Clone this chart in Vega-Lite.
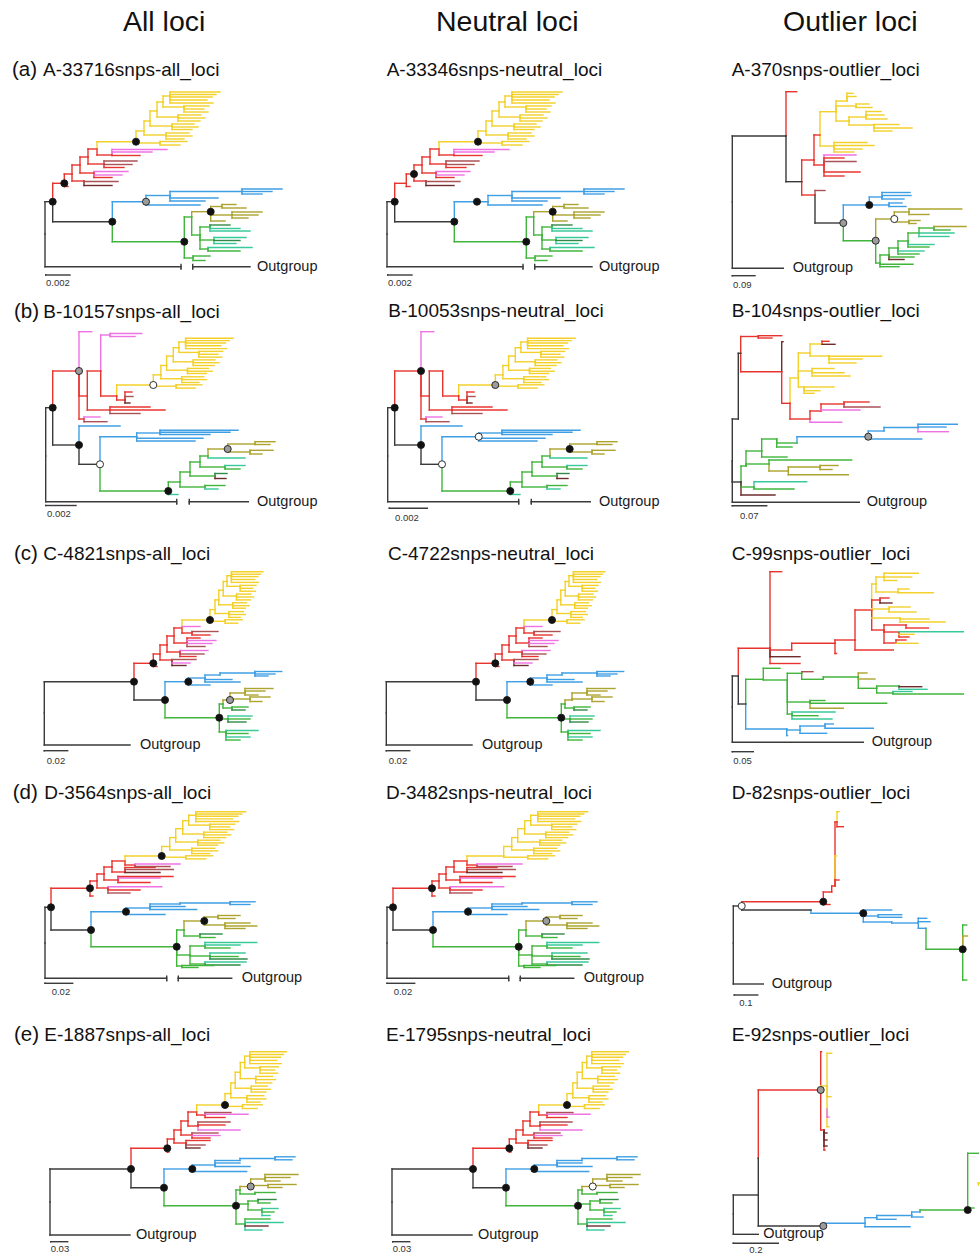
{
"$schema":"https://vega.github.io/schema/vega-lite/v6.json",
"background":"white",
"padding":{"left":0,"top":8,"right":0,"bottom":0},
"bounds":"flush",
"config":{"view":{"stroke":null},"font":"Liberation Sans"},
"data":{"values":[
{"r":"a","q":[1],"t":"All loci","s":"h","x":123,"y":-23},
{"r":"a","q":[2],"t":"Neutral loci","s":"h","x":94,"y":-23},
{"r":"a","q":[3],"t":"Outlier loci","s":"h","x":99,"y":-23},
{"r":"a","q":[1],"t":"(a)","s":"l","x":12,"y":25},
{"r":"a","q":[1],"t":"A-33716snps-all_loci","s":"t","x":43,"y":25},
{"r":"a","q":[2],"t":"A-33346snps-neutral_loci","s":"t","x":44.7,"y":25},
{"r":"a","q":[3],"t":"A-370snps-outlier_loci","s":"t","x":47.7,"y":25},
{"r":"a","q":[1,2],"t":"Outgroup","s":"o","x":257,"y":222},
{"r":"a","q":[1,2],"t":"0.002","s":"b","x":46,"y":237.5},
{"r":"a","q":[3],"t":"Outgroup","s":"o","x":108.7,"y":223.3},
{"r":"a","q":[3],"t":"0.09","s":"b","x":49,"y":239.5},
{"r":"a","q":[1,2],"c":"K","x":45,"y":189,"x2":52.7,"y2":156.7},
{"r":"a","q":[1,2],"c":"K","x":45,"y":189,"x2":181,"y2":221.7},
{"r":"a","q":[1,2],"c":"K","x":181,"y":219.5,"x2":181,"y2":223.9},
{"r":"a","q":[1,2],"c":"K","x":192.7,"y":219.5,"x2":192.7,"y2":223.9},
{"r":"a","q":[1,2],"c":"K","x":192.7,"y":221.7,"x2":250,"y2":221.7},
{"r":"a","q":[1,2],"c":"K","x":45.7,"y":230,"x2":70,"y2":230},
{"r":"a","q":[1,2],"c":"K","x":52.7,"y":156.7,"x2":112.3,"y2":176.7},
{"r":"a","q":[1,2],"c":"R","x":52.7,"y":156.7,"x2":64.3,"y2":138.3},
{"r":"a","q":[1,2],"c":"R","x":64.3,"y":138.3,"x2":68,"y2":141.5},
{"r":"a","q":[1,2],"c":"R","x":64.3,"y":138.3,"x2":72,"y2":129},
{"r":"a","q":[1,2],"c":"R","x":72,"y":129,"x2":84,"y2":136},
{"r":"a","q":[1,2],"c":"M","x":84,"y":136,"x2":118,"y2":136.5},
{"r":"a","q":[1,2],"c":"D","x":84,"y":136,"x2":112,"y2":140.5},
{"r":"a","q":[1,2],"c":"R","x":72,"y":129,"x2":80,"y2":120},
{"r":"a","q":[1,2],"c":"R","x":80,"y":120,"x2":94,"y2":128},
{"r":"a","q":[1,2],"c":"P","x":94,"y":128,"x2":128,"y2":126.5},
{"r":"a","q":[1,2],"c":"P","x":94,"y":128,"x2":122,"y2":130},
{"r":"a","q":[1,2],"c":"R","x":94,"y":128,"x2":112,"y2":132.5},
{"r":"a","q":[1,2],"c":"R","x":80,"y":120,"x2":88,"y2":112},
{"r":"a","q":[1,2],"c":"R","x":88,"y":112,"x2":104,"y2":119},
{"r":"a","q":[1,2],"c":"M","x":104,"y":119,"x2":137,"y2":116},
{"r":"a","q":[1,2],"c":"M","x":104,"y":119,"x2":132,"y2":119.5},
{"r":"a","q":[1,2],"c":"R","x":104,"y":119,"x2":124,"y2":122.5},
{"r":"a","q":[1,2],"c":"R","x":88,"y":112,"x2":97,"y2":104},
{"r":"a","q":[1,2],"c":"R","x":97,"y":104,"x2":112,"y2":110},
{"r":"a","q":[1,2],"c":"P","x":112,"y":110,"x2":152,"y2":107},
{"r":"a","q":[1,2],"c":"R","x":112,"y":110,"x2":140,"y2":110.5},
{"r":"a","q":[1,2],"c":"P","x":112,"y":110,"x2":167,"y2":104.5},
{"r":"a","q":[1,2],"c":"Y","x":97,"y":104,"x2":136,"y2":96.7},
{"r":"a","q":[1,2],"c":"Y","x":136,"y":96.7,"x2":144,"y2":86},
{"r":"a","q":[1,2],"c":"Y","x":144,"y":86,"x2":150,"y2":76},
{"r":"a","q":[1,2],"c":"Y","x":150,"y":76,"x2":157,"y2":66},
{"r":"a","q":[1,2],"c":"Y","x":157,"y":66,"x2":163,"y2":57},
{"r":"a","q":[1,2],"c":"Y","x":163,"y":57,"x2":170,"y2":51},
{"r":"a","q":[1,2],"c":"Y","x":136,"y":96.7,"x2":160,"y2":98},
{"r":"a","q":[1,2],"c":"Y","x":160,"y":98,"x2":180,"y2":100},
{"r":"a","q":[1,2],"c":"Y","x":160,"y":98,"x2":187,"y2":96.5},
{"r":"a","q":[1,2],"c":"Y","x":144,"y":86,"x2":166,"y2":90},
{"r":"a","q":[1,2],"c":"Y","x":166,"y":90,"x2":189,"y2":88},
{"r":"a","q":[1,2],"c":"Y","x":166,"y":90,"x2":192,"y2":91},
{"r":"a","q":[1,2],"c":"Y","x":166,"y":90,"x2":184,"y2":94},
{"r":"a","q":[1,2],"c":"Y","x":150,"y":76,"x2":172,"y2":81},
{"r":"a","q":[1,2],"c":"Y","x":172,"y":81,"x2":194,"y2":79},
{"r":"a","q":[1,2],"c":"Y","x":172,"y":81,"x2":198,"y2":82},
{"r":"a","q":[1,2],"c":"Y","x":172,"y":81,"x2":192,"y2":84.5},
{"r":"a","q":[1,2],"c":"Y","x":157,"y":66,"x2":178,"y2":72},
{"r":"a","q":[1,2],"c":"Y","x":178,"y":72,"x2":201,"y2":70},
{"r":"a","q":[1,2],"c":"Y","x":178,"y":72,"x2":205,"y2":73},
{"r":"a","q":[1,2],"c":"Y","x":178,"y":72,"x2":200,"y2":76},
{"r":"a","q":[1,2],"c":"Y","x":163,"y":57,"x2":184,"y2":62},
{"r":"a","q":[1,2],"c":"Y","x":184,"y":62,"x2":204,"y2":64},
{"r":"a","q":[1,2],"c":"Y","x":184,"y":62,"x2":209,"y2":61},
{"r":"a","q":[1,2],"c":"Y","x":184,"y":62,"x2":208,"y2":67},
{"r":"a","q":[1,2],"c":"Y","x":170,"y":51,"x2":220,"y2":47},
{"r":"a","q":[1,2],"c":"Y","x":170,"y":51,"x2":216,"y2":49.5},
{"r":"a","q":[1,2],"c":"Y","x":170,"y":51,"x2":212,"y2":52},
{"r":"a","q":[1,2],"c":"Y","x":170,"y":51,"x2":207,"y2":55},
{"r":"a","q":[1,2],"c":"Y","x":170,"y":51,"x2":213,"y2":58},
{"r":"a","q":[1,2],"c":"B","x":112.3,"y":176.7,"x2":146,"y2":156.7},
{"r":"a","q":[1,2],"c":"B","x":146,"y":156.7,"x2":200,"y2":160},
{"r":"a","q":[1,2],"c":"B","x":146,"y":156.7,"x2":170,"y2":150.5},
{"r":"a","q":[1,2],"c":"B","x":170,"y":150.5,"x2":218,"y2":153},
{"r":"a","q":[1,2],"c":"B","x":170,"y":150.5,"x2":205,"y2":156},
{"r":"a","q":[1,2],"c":"B","x":170,"y":150.5,"x2":242,"y2":146.5},
{"r":"a","q":[1,2],"c":"B","x":242,"y":146.5,"x2":282,"y2":144},
{"r":"a","q":[1,2],"c":"B","x":242,"y":146.5,"x2":272,"y2":146.5},
{"r":"a","q":[1,2],"c":"B","x":242,"y":146.5,"x2":262,"y2":149},
{"r":"a","q":[1,2],"c":"G","x":112.3,"y":176.7,"x2":184.3,"y2":196.7},
{"r":"a","q":[1,2],"c":"G","x":184.3,"y":196.7,"x2":191.7,"y2":172},
{"r":"a","q":[1,2],"c":"G","x":184.3,"y":196.7,"x2":193,"y2":213},
{"r":"a","q":[1,2],"c":"G","x":193,"y":213,"x2":210,"y2":211},
{"r":"a","q":[1,2],"c":"G","x":193,"y":213,"x2":205,"y2":215.5},
{"r":"a","q":[1,2],"c":"O","x":191.7,"y":172,"x2":210.7,"y2":166.7},
{"r":"a","q":[1,2],"c":"G","x":191.7,"y":172,"x2":200,"y2":190},
{"r":"a","q":[1,2],"c":"O","x":210.7,"y":166.7,"x2":222,"y2":161.5},
{"r":"a","q":[1,2],"c":"O","x":222,"y":161.5,"x2":236,"y2":159.5},
{"r":"a","q":[1,2],"c":"O","x":222,"y":161.5,"x2":246,"y2":163},
{"r":"a","q":[1,2],"c":"O","x":210.7,"y":166.7,"x2":232,"y2":170},
{"r":"a","q":[1,2],"c":"O","x":232,"y":170,"x2":262,"y2":167},
{"r":"a","q":[1,2],"c":"O","x":232,"y":170,"x2":258,"y2":170},
{"r":"a","q":[1,2],"c":"O","x":232,"y":170,"x2":248,"y2":173},
{"r":"a","q":[1,2],"c":"O","x":210.7,"y":166.7,"x2":225,"y2":176},
{"r":"a","q":[1,2],"c":"G","x":200,"y":190,"x2":210,"y2":182},
{"r":"a","q":[1,2],"c":"N","x":210,"y":182,"x2":230,"y2":180},
{"r":"a","q":[1,2],"c":"T","x":210,"y":182,"x2":240,"y2":183.5},
{"r":"a","q":[1,2],"c":"T","x":210,"y":182,"x2":250,"y2":186},
{"r":"a","q":[1,2],"c":"G","x":200,"y":190,"x2":214,"y2":195},
{"r":"a","q":[1,2],"c":"T","x":214,"y":195,"x2":246,"y2":192.5},
{"r":"a","q":[1,2],"c":"N","x":214,"y":195,"x2":240,"y2":195.5},
{"r":"a","q":[1,2],"c":"T","x":214,"y":195,"x2":236,"y2":198.5},
{"r":"a","q":[1,2],"c":"G","x":200,"y":190,"x2":208,"y2":204},
{"r":"a","q":[1,2],"c":"T","x":208,"y":204,"x2":252,"y2":202.5},
{"r":"a","q":[1,2],"c":"G","x":208,"y":204,"x2":240,"y2":206},
{"r":"a","q":[1],"n":"k","x":52.7,"y":156.7},
{"r":"a","q":[1],"n":"k","x":64.3,"y":138.3},
{"r":"a","q":[1],"n":"k","x":136,"y":96.7},
{"r":"a","q":[1],"n":"g","x":146,"y":156.7},
{"r":"a","q":[1],"n":"k","x":112.3,"y":176.7},
{"r":"a","q":[1],"n":"k","x":184.3,"y":196.7},
{"r":"a","q":[1],"n":"k","x":210.7,"y":166.7},
{"r":"a","q":[2],"n":"k","x":52.7,"y":156.7},
{"r":"a","q":[2],"n":"k","x":72,"y":129},
{"r":"a","q":[2],"n":"k","x":136,"y":96.7},
{"r":"a","q":[2],"n":"k","x":135,"y":156.7},
{"r":"a","q":[2],"n":"k","x":112.3,"y":176.7},
{"r":"a","q":[2],"n":"k","x":184.3,"y":196.7},
{"r":"a","q":[2],"n":"k","x":210.7,"y":166.7},
{"r":"a","q":[3],"c":"K","x":48.3,"y":157,"x2":102,"y2":91},
{"r":"a","q":[3],"c":"K","x":48.3,"y":157,"x2":99.3,"y2":223.3},
{"r":"a","q":[3],"c":"K","x":48.3,"y":230.7,"x2":71,"y2":230.7},
{"r":"a","q":[3],"c":"R","x":102,"y":91,"x2":112.7,"y2":46.7},
{"r":"a","q":[3],"c":"K","x":102,"y":91,"x2":117.7,"y2":136.7},
{"r":"a","q":[3],"c":"R","x":117.7,"y":136.7,"x2":130,"y2":115},
{"r":"a","q":[3],"c":"R","x":117.7,"y":136.7,"x2":131,"y2":150},
{"r":"a","q":[3],"c":"R","x":130,"y":115,"x2":136,"y2":90},
{"r":"a","q":[3],"c":"R","x":130,"y":115,"x2":140,"y2":120},
{"r":"a","q":[3],"c":"Y","x":136,"y":90,"x2":152,"y2":66.7},
{"r":"a","q":[3],"c":"Y","x":136,"y":90,"x2":150,"y2":101},
{"r":"a","q":[3],"c":"Y","x":150,"y":101,"x2":183,"y2":97.5},
{"r":"a","q":[3],"c":"Y","x":150,"y":101,"x2":190,"y2":100.5},
{"r":"a","q":[3],"c":"Y","x":150,"y":101,"x2":178,"y2":104},
{"r":"a","q":[3],"c":"Y","x":150,"y":101,"x2":170,"y2":107},
{"r":"a","q":[3],"c":"Y","x":152,"y":66.7,"x2":163,"y2":56},
{"r":"a","q":[3],"c":"Y","x":163,"y":56,"x2":169,"y2":48.3},
{"r":"a","q":[3],"c":"Y","x":163,"y":56,"x2":172,"y2":51.5},
{"r":"a","q":[3],"c":"Y","x":152,"y":66.7,"x2":172,"y2":61},
{"r":"a","q":[3],"c":"Y","x":172,"y":61,"x2":185,"y2":59},
{"r":"a","q":[3],"c":"Y","x":172,"y":61,"x2":188,"y2":62.5},
{"r":"a","q":[3],"c":"Y","x":152,"y":66.7,"x2":165,"y2":76},
{"r":"a","q":[3],"c":"Y","x":165,"y":76,"x2":182,"y2":72},
{"r":"a","q":[3],"c":"Y","x":182,"y":72,"x2":197,"y2":66.5},
{"r":"a","q":[3],"c":"Y","x":182,"y":72,"x2":200,"y2":70},
{"r":"a","q":[3],"c":"Y","x":182,"y":72,"x2":203,"y2":74},
{"r":"a","q":[3],"c":"Y","x":165,"y":76,"x2":190,"y2":80},
{"r":"a","q":[3],"c":"Y","x":190,"y":80,"x2":228,"y2":83},
{"r":"a","q":[3],"c":"Y","x":190,"y":80,"x2":215,"y2":79.5},
{"r":"a","q":[3],"c":"Y","x":190,"y":80,"x2":208,"y2":86},
{"r":"a","q":[3],"c":"P","x":140,"y":120,"x2":172,"y2":110},
{"r":"a","q":[3],"c":"M","x":140,"y":120,"x2":172,"y2":116.5},
{"r":"a","q":[3],"c":"R","x":140,"y":120,"x2":160,"y2":113},
{"r":"a","q":[3],"c":"R","x":140,"y":120,"x2":176,"y2":127},
{"r":"a","q":[3],"c":"R","x":140,"y":120,"x2":160,"y2":131},
{"r":"a","q":[3],"c":"M","x":131,"y":150,"x2":141,"y2":145.5},
{"r":"a","q":[3],"c":"K","x":131,"y":150,"x2":159.3,"y2":178},
{"r":"a","q":[3],"c":"B","x":159.3,"y":178,"x2":185.3,"y2":160},
{"r":"a","q":[3],"c":"G","x":159.3,"y":178,"x2":191.7,"y2":195.7},
{"r":"a","q":[3],"c":"B","x":185.3,"y":160,"x2":198,"y2":152},
{"r":"a","q":[3],"c":"B","x":198,"y":152,"x2":226,"y2":147.5},
{"r":"a","q":[3],"c":"B","x":198,"y":152,"x2":227,"y2":150.5},
{"r":"a","q":[3],"c":"B","x":198,"y":152,"x2":220,"y2":154},
{"r":"a","q":[3],"c":"B","x":185.3,"y":160,"x2":205,"y2":160},
{"r":"a","q":[3],"c":"B","x":205,"y":160,"x2":218,"y2":158},
{"r":"a","q":[3],"c":"B","x":205,"y":160,"x2":222,"y2":161.5},
{"r":"a","q":[3],"c":"O","x":191.7,"y":195.7,"x2":210.3,"y2":174},
{"r":"a","q":[3],"c":"O","x":210.3,"y":174,"x2":225,"y2":167},
{"r":"a","q":[3],"c":"O","x":225,"y":167,"x2":277.7,"y2":164},
{"r":"a","q":[3],"c":"O","x":225,"y":167,"x2":245,"y2":169.5},
{"r":"a","q":[3],"c":"O","x":210.3,"y":174,"x2":225,"y2":177},
{"r":"a","q":[3],"c":"O","x":225,"y":177,"x2":236,"y2":175.5},
{"r":"a","q":[3],"c":"O","x":225,"y":177,"x2":232,"y2":178.5},
{"r":"a","q":[3],"c":"G","x":191.7,"y":195.7,"x2":196,"y2":218},
{"r":"a","q":[3],"c":"G","x":196,"y":218,"x2":229,"y2":219.3},
{"r":"a","q":[3],"c":"G","x":196,"y":218,"x2":215,"y2":221.7},
{"r":"a","q":[3],"c":"G","x":196,"y":218,"x2":205,"y2":210},
{"r":"a","q":[3],"c":"G","x":205,"y":210,"x2":230,"y2":212},
{"r":"a","q":[3],"c":"D","x":205,"y":210,"x2":220,"y2":214.5},
{"r":"a","q":[3],"c":"G","x":205,"y":210,"x2":214,"y2":203},
{"r":"a","q":[3],"c":"T","x":214,"y":203,"x2":240,"y2":206},
{"r":"a","q":[3],"c":"G","x":214,"y":203,"x2":235,"y2":209},
{"r":"a","q":[3],"c":"G","x":214,"y":203,"x2":224,"y2":196},
{"r":"a","q":[3],"c":"T","x":224,"y":196,"x2":250,"y2":199.5},
{"r":"a","q":[3],"c":"G","x":224,"y":196,"x2":245,"y2":202},
{"r":"a","q":[3],"c":"G","x":224,"y":196,"x2":235,"y2":188},
{"r":"a","q":[3],"c":"T","x":235,"y":188,"x2":265,"y2":191.5},
{"r":"a","q":[3],"c":"T","x":235,"y":188,"x2":270,"y2":188},
{"r":"a","q":[3],"c":"G","x":235,"y":188,"x2":250,"y2":183},
{"r":"a","q":[3],"c":"O","x":250,"y":183,"x2":282,"y2":181.5},
{"r":"a","q":[3],"c":"G","x":250,"y":183,"x2":266,"y2":185},
{"r":"a","q":[3],"n":"k","x":185.3,"y":160},
{"r":"a","q":[3],"n":"g","x":159.3,"y":178},
{"r":"a","q":[3],"n":"w","x":210.3,"y":174},
{"r":"a","q":[3],"n":"g","x":191.7,"y":195.7},

{"r":"b","q":[1],"t":"(b)","s":"l","x":14,"y":25.7},
{"r":"b","q":[1],"t":"B-10157snps-all_loci","s":"t","x":43.3,"y":25.7},
{"r":"b","q":[2],"t":"B-10053snps-neutral_loci","s":"t","x":46.3,"y":25},
{"r":"b","q":[3],"t":"B-104snps-outlier_loci","s":"t","x":47.7,"y":25},
{"r":"b","q":[1,2],"t":"Outgroup","s":"o","x":257,"y":215.7},
{"r":"b","q":[1],"t":"0.002","s":"b","x":47,"y":228},
{"r":"b","q":[2],"t":"0.002","s":"b","x":53,"y":232},
{"r":"b","q":[3],"t":"Outgroup","s":"o","x":182.7,"y":216.3},
{"r":"b","q":[3],"t":"0.07","s":"b","x":56,"y":229.7},
{"r":"b","q":[1,2],"c":"K","x":45.7,"y":170,"x2":52.7,"y2":121.7},
{"r":"b","q":[1,2],"c":"K","x":45.7,"y":170,"x2":176.7,"y2":215.7},
{"r":"b","q":[1,2],"c":"K","x":176.7,"y":213.5,"x2":176.7,"y2":217.9},
{"r":"b","q":[1,2],"c":"K","x":189.3,"y":213.5,"x2":189.3,"y2":217.9},
{"r":"b","q":[1,2],"c":"K","x":189.3,"y":215.7,"x2":248.3,"y2":215.7},
{"r":"b","q":[1],"c":"K","x":45.7,"y":219.5,"x2":76,"y2":219.5},
{"r":"b","q":[2],"c":"K","x":47.3,"y":222.3,"x2":85.3,"y2":222.3},
{"r":"b","q":[1,2],"c":"R","x":52.7,"y":121.7,"x2":79,"y2":85},
{"r":"b","q":[1,2],"c":"K","x":52.7,"y":121.7,"x2":79,"y2":159},
{"r":"b","q":[1,2],"c":"P","x":79,"y":85,"x2":91.7,"y2":45.7},
{"r":"b","q":[1,2],"c":"R","x":79,"y":85,"x2":87.3,"y2":110},
{"r":"b","q":[1,2],"c":"R","x":79,"y":85,"x2":84,"y2":133},
{"r":"b","q":[1,2],"c":"M","x":84,"y":133,"x2":107,"y2":135.7},
{"r":"b","q":[1,2],"c":"P","x":84,"y":133,"x2":100,"y2":131},
{"r":"b","q":[1,2],"c":"R","x":87.3,"y":110,"x2":100.7,"y2":85},
{"r":"b","q":[1],"c":"P","x":100.7,"y":85,"x2":110,"y2":49},
{"r":"b","q":[1],"c":"P","x":110,"y":49,"x2":141.7,"y2":47.5},
{"r":"b","q":[1],"c":"P","x":110,"y":49,"x2":135,"y2":50.5},
{"r":"b","q":[1,2],"c":"R","x":100.7,"y":85,"x2":116.7,"y2":110},
{"r":"b","q":[1,2],"c":"R","x":87.3,"y":110,"x2":110,"y2":124},
{"r":"b","q":[1,2],"c":"R","x":110,"y":124,"x2":165,"y2":124},
{"r":"b","q":[1,2],"c":"R","x":110,"y":124,"x2":150,"y2":121},
{"r":"b","q":[1,2],"c":"M","x":110,"y":124,"x2":140,"y2":127.5},
{"r":"b","q":[1,2],"c":"Y","x":116.7,"y":110,"x2":153.3,"y2":99},
{"r":"b","q":[1,2],"c":"R","x":116.7,"y":110,"x2":125,"y2":114},
{"r":"b","q":[1,2],"c":"M","x":125,"y":114,"x2":133,"y2":110.5},
{"r":"b","q":[1,2],"c":"R","x":125,"y":114,"x2":132,"y2":106},
{"r":"b","q":[1,2],"c":"D","x":125,"y":114,"x2":130,"y2":117},
{"r":"b","q":[1,2],"c":"Y","x":153.3,"y":99,"x2":160.9,"y2":88.9},
{"r":"b","q":[1,2],"c":"Y","x":160.9,"y":88.9,"x2":166.6,"y2":79.5},
{"r":"b","q":[1,2],"c":"Y","x":166.6,"y":79.5,"x2":173.3,"y2":70.1},
{"r":"b","q":[1,2],"c":"Y","x":173.3,"y":70.1,"x2":178.9,"y2":61.7},
{"r":"b","q":[1,2],"c":"Y","x":178.9,"y":61.7,"x2":185.6,"y2":56},
{"r":"b","q":[1,2],"c":"Y","x":153.3,"y":99,"x2":176.1,"y2":100.2},
{"r":"b","q":[1,2],"c":"Y","x":176.1,"y":100.2,"x2":195.1,"y2":102.1},
{"r":"b","q":[1,2],"c":"Y","x":176.1,"y":100.2,"x2":201.8,"y2":98.8},
{"r":"b","q":[1,2],"c":"Y","x":160.9,"y":88.9,"x2":181.8,"y2":92.7},
{"r":"b","q":[1,2],"c":"Y","x":181.8,"y":92.7,"x2":203.7,"y2":90.8},
{"r":"b","q":[1,2],"c":"Y","x":181.8,"y":92.7,"x2":206.5,"y2":93.6},
{"r":"b","q":[1,2],"c":"Y","x":181.8,"y":92.7,"x2":198.9,"y2":96.5},
{"r":"b","q":[1,2],"c":"Y","x":166.6,"y":79.5,"x2":187.5,"y2":84.2},
{"r":"b","q":[1,2],"c":"Y","x":187.5,"y":84.2,"x2":208.4,"y2":82.4},
{"r":"b","q":[1,2],"c":"Y","x":187.5,"y":84.2,"x2":212.2,"y2":85.2},
{"r":"b","q":[1,2],"c":"Y","x":187.5,"y":84.2,"x2":206.5,"y2":87.5},
{"r":"b","q":[1,2],"c":"Y","x":173.3,"y":70.1,"x2":193.2,"y2":75.8},
{"r":"b","q":[1,2],"c":"Y","x":193.2,"y":75.8,"x2":215,"y2":73.9},
{"r":"b","q":[1,2],"c":"Y","x":193.2,"y":75.8,"x2":218.9,"y2":76.7},
{"r":"b","q":[1,2],"c":"Y","x":193.2,"y":75.8,"x2":214.1,"y2":79.5},
{"r":"b","q":[1,2],"c":"Y","x":178.9,"y":61.7,"x2":198.9,"y2":66.4},
{"r":"b","q":[1,2],"c":"Y","x":198.9,"y":66.4,"x2":217.9,"y2":68.3},
{"r":"b","q":[1,2],"c":"Y","x":198.9,"y":66.4,"x2":222.7,"y2":65.4},
{"r":"b","q":[1,2],"c":"Y","x":198.9,"y":66.4,"x2":221.7,"y2":71.1},
{"r":"b","q":[1,2],"c":"Y","x":185.6,"y":56,"x2":233.1,"y2":52.3},
{"r":"b","q":[1,2],"c":"Y","x":185.6,"y":56,"x2":229.3,"y2":54.6},
{"r":"b","q":[1,2],"c":"Y","x":185.6,"y":56,"x2":225.5,"y2":57},
{"r":"b","q":[1,2],"c":"Y","x":185.6,"y":56,"x2":220.8,"y2":59.8},
{"r":"b","q":[1,2],"c":"Y","x":185.6,"y":56,"x2":226.5,"y2":62.6},
{"r":"b","q":[1,2],"c":"B","x":79,"y":159,"x2":120,"y2":140},
{"r":"b","q":[1,2],"c":"K","x":79,"y":159,"x2":100,"y2":178.3},
{"r":"b","q":[1,2],"c":"B","x":100,"y":178.3,"x2":136.7,"y2":150.7},
{"r":"b","q":[1,2],"c":"B","x":136.7,"y":150.7,"x2":203,"y2":152.3},
{"r":"b","q":[1,2],"c":"B","x":136.7,"y":150.7,"x2":160,"y2":147},
{"r":"b","q":[1,2],"c":"B","x":160,"y":147,"x2":238,"y2":144.3},
{"r":"b","q":[1,2],"c":"B","x":160,"y":147,"x2":230,"y2":146.3},
{"r":"b","q":[1,2],"c":"B","x":160,"y":147,"x2":210,"y2":148.5},
{"r":"b","q":[1,2],"c":"B","x":136.7,"y":150.7,"x2":195,"y2":155},
{"r":"b","q":[1,2],"c":"G","x":100,"y":178.3,"x2":168.3,"y2":205},
{"r":"b","q":[1,2],"c":"T","x":168.3,"y":205,"x2":178,"y2":208.5},
{"r":"b","q":[1,2],"c":"G","x":168.3,"y":205,"x2":180,"y2":196},
{"r":"b","q":[1,2],"c":"G","x":180,"y":196,"x2":205,"y2":201},
{"r":"b","q":[1,2],"c":"G","x":205,"y":201,"x2":225,"y2":199.5},
{"r":"b","q":[1,2],"c":"T","x":205,"y":201,"x2":218,"y2":203},
{"r":"b","q":[1,2],"c":"G","x":180,"y":196,"x2":190,"y2":186},
{"r":"b","q":[1,2],"c":"G","x":190,"y":186,"x2":215,"y2":190},
{"r":"b","q":[1,2],"c":"N","x":215,"y":190,"x2":227,"y2":187.5},
{"r":"b","q":[1,2],"c":"D","x":215,"y":190,"x2":226,"y2":192.5},
{"r":"b","q":[1,2],"c":"G","x":190,"y":186,"x2":200,"y2":176},
{"r":"b","q":[1,2],"c":"G","x":200,"y":176,"x2":225,"y2":181},
{"r":"b","q":[1,2],"c":"T","x":225,"y":181,"x2":245,"y2":179.5},
{"r":"b","q":[1,2],"c":"G","x":225,"y":181,"x2":240,"y2":183},
{"r":"b","q":[1,2],"c":"G","x":200,"y":176,"x2":208,"y2":170},
{"r":"b","q":[1,2],"c":"T","x":208,"y":170,"x2":245,"y2":172},
{"r":"b","q":[1,2],"c":"O","x":208,"y":170,"x2":227.7,"y2":163},
{"r":"b","q":[1,2],"c":"O","x":227.7,"y":163,"x2":255,"y2":158},
{"r":"b","q":[1,2],"c":"O","x":255,"y":158,"x2":275,"y2":155.7},
{"r":"b","q":[1,2],"c":"O","x":255,"y":158,"x2":270,"y2":158.5},
{"r":"b","q":[1,2],"c":"O","x":227.7,"y":163,"x2":250,"y2":166},
{"r":"b","q":[1,2],"c":"O","x":250,"y":166,"x2":273,"y2":164.3},
{"r":"b","q":[1,2],"c":"O","x":250,"y":166,"x2":262,"y2":168},
{"r":"b","q":[1],"n":"k","x":52.7,"y":121.7},
{"r":"b","q":[1],"n":"g","x":79,"y":85},
{"r":"b","q":[1],"n":"w","x":153.3,"y":99},
{"r":"b","q":[1],"n":"k","x":79,"y":159},
{"r":"b","q":[1],"n":"w","x":100,"y":178.3},
{"r":"b","q":[1],"n":"k","x":168.3,"y":205},
{"r":"b","q":[1],"n":"g","x":227.7,"y":163},
{"r":"b","q":[2],"n":"k","x":52.7,"y":121.7},
{"r":"b","q":[2],"n":"k","x":79,"y":85},
{"r":"b","q":[2],"n":"g","x":153.3,"y":99},
{"r":"b","q":[2],"n":"k","x":79,"y":159},
{"r":"b","q":[2],"n":"w","x":136.7,"y":150.7},
{"r":"b","q":[2],"n":"w","x":100,"y":178.3},
{"r":"b","q":[2],"n":"k","x":168.3,"y":205},
{"r":"b","q":[2],"n":"k","x":227.7,"y":163},
{"r":"b","q":[3],"c":"K","x":48.3,"y":175,"x2":54.3,"y2":133},
{"r":"b","q":[3],"c":"K","x":54.3,"y":133,"x2":56.7,"y2":67.3},
{"r":"b","q":[3],"c":"K","x":48.3,"y":175,"x2":57,"y2":196},
{"r":"b","q":[3],"c":"K","x":48.3,"y":175,"x2":175.3,"y2":216.3},
{"r":"b","q":[3],"c":"K","x":48.3,"y":219.7,"x2":82.7,"y2":219.7},
{"r":"b","q":[3],"c":"R","x":56.7,"y":67.3,"x2":74.3,"y2":50.5},
{"r":"b","q":[3],"c":"R","x":74.3,"y":50.5,"x2":97.7,"y2":49.7},
{"r":"b","q":[3],"c":"R","x":74.3,"y":50.5,"x2":88,"y2":52},
{"r":"b","q":[3],"c":"R","x":56.7,"y":67.3,"x2":97.7,"y2":85.7},
{"r":"b","q":[3],"c":"D","x":97.7,"y":85.7,"x2":99,"y2":55.7},
{"r":"b","q":[3],"c":"R","x":97.7,"y":85.7,"x2":106,"y2":117.3},
{"r":"b","q":[3],"c":"Y","x":106,"y":117.3,"x2":114.3,"y2":92},
{"r":"b","q":[3],"c":"Y","x":114.3,"y":92,"x2":126,"y2":67},
{"r":"b","q":[3],"c":"Y","x":126,"y":67,"x2":138,"y2":58},
{"r":"b","q":[3],"c":"D","x":138,"y":58,"x2":151,"y2":58.3},
{"r":"b","q":[3],"c":"R","x":138,"y":58,"x2":145,"y2":55.3},
{"r":"b","q":[3],"c":"Y","x":126,"y":67,"x2":145,"y2":70},
{"r":"b","q":[3],"c":"Y","x":145,"y":70,"x2":197.7,"y2":70.3},
{"r":"b","q":[3],"c":"Y","x":145,"y":70,"x2":178,"y2":73},
{"r":"b","q":[3],"c":"Y","x":145,"y":70,"x2":172,"y2":77},
{"r":"b","q":[3],"c":"Y","x":114.3,"y":92,"x2":128,"y2":85},
{"r":"b","q":[3],"c":"Y","x":128,"y":85,"x2":160,"y2":86.7},
{"r":"b","q":[3],"c":"Y","x":128,"y":85,"x2":166,"y2":90},
{"r":"b","q":[3],"c":"Y","x":128,"y":85,"x2":150,"y2":82.5},
{"r":"b","q":[3],"c":"Y","x":114.3,"y":92,"x2":120,"y2":101},
{"r":"b","q":[3],"c":"Y","x":120,"y":101,"x2":150,"y2":101},
{"r":"b","q":[3],"c":"Y","x":120,"y":101,"x2":136,"y2":104.7},
{"r":"b","q":[3],"c":"Y","x":120,"y":101,"x2":130,"y2":107.3},
{"r":"b","q":[3],"c":"R","x":106,"y":117.3,"x2":126,"y2":133},
{"r":"b","q":[3],"c":"R","x":126,"y":133,"x2":137,"y2":125},
{"r":"b","q":[3],"c":"R","x":137,"y":125,"x2":160,"y2":118},
{"r":"b","q":[3],"c":"R","x":160,"y":118,"x2":185,"y2":116},
{"r":"b","q":[3],"c":"M","x":160,"y":118,"x2":196,"y2":121},
{"r":"b","q":[3],"c":"P","x":137,"y":125,"x2":176,"y2":124},
{"r":"b","q":[3],"c":"P","x":126,"y":133,"x2":157.7,"y2":136.3},
{"r":"b","q":[3],"c":"G","x":57,"y":196,"x2":62,"y2":180},
{"r":"b","q":[3],"c":"G","x":62,"y":180,"x2":77.7,"y2":165},
{"r":"b","q":[3],"c":"G","x":77.7,"y":165,"x2":92.7,"y2":153},
{"r":"b","q":[3],"c":"G","x":92.7,"y":153,"x2":113,"y2":157},
{"r":"b","q":[3],"c":"B","x":113,"y":157,"x2":184.3,"y2":150.7},
{"r":"b","q":[3],"c":"G","x":92.7,"y":153,"x2":108,"y2":161},
{"r":"b","q":[3],"c":"G","x":77.7,"y":165,"x2":103,"y2":171},
{"r":"b","q":[3],"c":"G","x":62,"y":180,"x2":85,"y2":178},
{"r":"b","q":[3],"c":"G","x":85,"y":178,"x2":167.7,"y2":174},
{"r":"b","q":[3],"c":"O","x":85,"y":178,"x2":104.3,"y2":185},
{"r":"b","q":[3],"c":"O","x":104.3,"y":185,"x2":136,"y2":181},
{"r":"b","q":[3],"c":"O","x":136,"y":181,"x2":154,"y2":179.5},
{"r":"b","q":[3],"c":"O","x":136,"y":181,"x2":148,"y2":183.5},
{"r":"b","q":[3],"c":"O","x":104.3,"y":185,"x2":164.3,"y2":188.7},
{"r":"b","q":[3],"c":"G","x":57,"y":196,"x2":70,"y2":201},
{"r":"b","q":[3],"c":"T","x":70,"y":201,"x2":122.7,"y2":195.7},
{"r":"b","q":[3],"c":"G","x":70,"y":201,"x2":110,"y2":203},
{"r":"b","q":[3],"c":"D","x":57,"y":196,"x2":91,"y2":209},
{"r":"b","q":[3],"c":"B","x":184.3,"y":150.7,"x2":200,"y2":145},
{"r":"b","q":[3],"c":"B","x":200,"y":145,"x2":234,"y2":141.5},
{"r":"b","q":[3],"c":"B","x":234,"y":141.5,"x2":273.3,"y2":138.3},
{"r":"b","q":[3],"c":"B","x":234,"y":141.5,"x2":262,"y2":141},
{"r":"b","q":[3],"c":"P","x":234,"y":141.5,"x2":264.3,"y2":145.7},
{"r":"b","q":[3],"c":"B","x":184.3,"y":150.7,"x2":237.7,"y2":153},
{"r":"b","q":[3],"n":"g","x":184.3,"y":150.7},

{"r":"c","q":[1],"t":"(c)","s":"l","x":14,"y":27},
{"r":"c","q":[1],"t":"C-4821snps-all_loci","s":"t","x":43.3,"y":27},
{"r":"c","q":[2],"t":"C-4722snps-neutral_loci","s":"t","x":46,"y":27},
{"r":"c","q":[3],"t":"C-99snps-outlier_loci","s":"t","x":47.7,"y":27},
{"r":"c","q":[1,2],"t":"Outgroup","s":"o","x":140,"y":218},
{"r":"c","q":[1,2],"t":"0.02","s":"b","x":46.7,"y":233.7},
{"r":"c","q":[3],"t":"Outgroup","s":"o","x":187.7,"y":215.3},
{"r":"c","q":[3],"t":"0.05","s":"b","x":49.3,"y":233.7},
{"r":"c","q":[1,2],"c":"K","x":44.3,"y":186,"x2":134,"y2":154.7},
{"r":"c","q":[1,2],"c":"K","x":44.3,"y":186,"x2":130,"y2":218},
{"r":"c","q":[1,2],"c":"K","x":44.3,"y":223.7,"x2":67.7,"y2":223.7},
{"r":"c","q":[1,2],"c":"R","x":134,"y":154.7,"x2":153.3,"y2":136.3},
{"r":"c","q":[1,2],"c":"K","x":134,"y":154.7,"x2":165,"y2":173},
{"r":"c","q":[1,2],"c":"R","x":153.3,"y":136.3,"x2":157,"y2":139.5},
{"r":"c","q":[1,2],"c":"R","x":153.3,"y":136.3,"x2":160,"y2":127},
{"r":"c","q":[1,2],"c":"R","x":160,"y":127,"x2":167,"y2":118},
{"r":"c","q":[1,2],"c":"R","x":167,"y":118,"x2":174,"y2":109},
{"r":"c","q":[1,2],"c":"R","x":174,"y":109,"x2":182,"y2":101},
{"r":"c","q":[1,2],"c":"R","x":160,"y":127,"x2":172,"y2":133},
{"r":"c","q":[1,2],"c":"M","x":172,"y":133,"x2":196,"y2":132.5},
{"r":"c","q":[1,2],"c":"P","x":172,"y":133,"x2":190,"y2":136},
{"r":"c","q":[1,2],"c":"D","x":172,"y":133,"x2":186,"y2":138.5},
{"r":"c","q":[1,2],"c":"R","x":167,"y":118,"x2":180,"y2":125},
{"r":"c","q":[1,2],"c":"P","x":180,"y":125,"x2":208,"y2":123.5},
{"r":"c","q":[1,2],"c":"M","x":180,"y":125,"x2":204,"y2":127},
{"r":"c","q":[1,2],"c":"R","x":180,"y":125,"x2":196,"y2":129.5},
{"r":"c","q":[1,2],"c":"R","x":174,"y":109,"x2":187,"y2":116},
{"r":"c","q":[1,2],"c":"P","x":187,"y":116,"x2":216,"y2":113.5},
{"r":"c","q":[1,2],"c":"P","x":187,"y":116,"x2":212,"y2":116.5},
{"r":"c","q":[1,2],"c":"M","x":187,"y":116,"x2":205,"y2":119.5},
{"r":"c","q":[1,2],"c":"R","x":187,"y":116,"x2":200,"y2":111},
{"r":"c","q":[1,2],"c":"R","x":182,"y":101,"x2":192,"y2":106},
{"r":"c","q":[1,2],"c":"M","x":192,"y":106,"x2":218,"y2":104.5},
{"r":"c","q":[1,2],"c":"R","x":192,"y":106,"x2":210,"y2":108},
{"r":"c","q":[1,2],"c":"P","x":182,"y":101,"x2":200,"y2":99.5},
{"r":"c","q":[1,2],"c":"Y","x":182,"y":101,"x2":210,"y2":93},
{"r":"c","q":[1,2],"c":"Y","x":210,"y":93,"x2":215,"y2":82.6},
{"r":"c","q":[1,2],"c":"Y","x":215,"y":82.6,"x2":218.8,"y2":72.9},
{"r":"c","q":[1,2],"c":"Y","x":218.8,"y":72.9,"x2":223.2,"y2":63.2},
{"r":"c","q":[1,2],"c":"Y","x":223.2,"y":63.2,"x2":227,"y2":54.5},
{"r":"c","q":[1,2],"c":"Y","x":227,"y":54.5,"x2":231.4,"y2":48.7},
{"r":"c","q":[1,2],"c":"Y","x":210,"y":93,"x2":225.1,"y2":94.3},
{"r":"c","q":[1,2],"c":"Y","x":225.1,"y":94.3,"x2":237.7,"y2":96.2},
{"r":"c","q":[1,2],"c":"Y","x":225.1,"y":94.3,"x2":242.1,"y2":92.8},
{"r":"c","q":[1,2],"c":"Y","x":215,"y":82.6,"x2":228.9,"y2":86.5},
{"r":"c","q":[1,2],"c":"Y","x":228.9,"y":86.5,"x2":243.4,"y2":84.6},
{"r":"c","q":[1,2],"c":"Y","x":228.9,"y":86.5,"x2":245.3,"y2":87.5},
{"r":"c","q":[1,2],"c":"Y","x":228.9,"y":86.5,"x2":240.2,"y2":90.4},
{"r":"c","q":[1,2],"c":"Y","x":218.8,"y":72.9,"x2":232.7,"y2":77.8},
{"r":"c","q":[1,2],"c":"Y","x":232.7,"y":77.8,"x2":246.5,"y2":75.8},
{"r":"c","q":[1,2],"c":"Y","x":232.7,"y":77.8,"x2":249.1,"y2":78.7},
{"r":"c","q":[1,2],"c":"Y","x":232.7,"y":77.8,"x2":245.3,"y2":81.2},
{"r":"c","q":[1,2],"c":"Y","x":223.2,"y":63.2,"x2":236.5,"y2":69},
{"r":"c","q":[1,2],"c":"Y","x":236.5,"y":69,"x2":251,"y2":67.1},
{"r":"c","q":[1,2],"c":"Y","x":236.5,"y":69,"x2":253.5,"y2":70},
{"r":"c","q":[1,2],"c":"Y","x":236.5,"y":69,"x2":250.3,"y2":72.9},
{"r":"c","q":[1,2],"c":"Y","x":227,"y":54.5,"x2":240.2,"y2":59.3},
{"r":"c","q":[1,2],"c":"Y","x":240.2,"y":59.3,"x2":252.8,"y2":61.3},
{"r":"c","q":[1,2],"c":"Y","x":240.2,"y":59.3,"x2":256,"y2":58.4},
{"r":"c","q":[1,2],"c":"Y","x":240.2,"y":59.3,"x2":255.4,"y2":64.2},
{"r":"c","q":[1,2],"c":"Y","x":231.4,"y":48.7,"x2":262.9,"y2":44.8},
{"r":"c","q":[1,2],"c":"Y","x":231.4,"y":48.7,"x2":260.4,"y2":47.2},
{"r":"c","q":[1,2],"c":"Y","x":231.4,"y":48.7,"x2":257.9,"y2":49.6},
{"r":"c","q":[1,2],"c":"Y","x":231.4,"y":48.7,"x2":254.7,"y2":52.5},
{"r":"c","q":[1,2],"c":"Y","x":231.4,"y":48.7,"x2":258.5,"y2":55.4},
{"r":"c","q":[1,2],"c":"B","x":165,"y":173,"x2":188.3,"y2":154.7},
{"r":"c","q":[1,2],"c":"B","x":188.3,"y":154.7,"x2":210,"y2":158},
{"r":"c","q":[1,2],"c":"B","x":188.3,"y":154.7,"x2":205,"y2":151},
{"r":"c","q":[1,2],"c":"B","x":205,"y":151,"x2":240,"y2":155},
{"r":"c","q":[1,2],"c":"B","x":205,"y":151,"x2":232,"y2":152.5},
{"r":"c","q":[1,2],"c":"B","x":205,"y":151,"x2":220,"y2":148},
{"r":"c","q":[1,2],"c":"B","x":220,"y":148,"x2":255,"y2":146},
{"r":"c","q":[1,2],"c":"B","x":255,"y":146,"x2":281.7,"y2":144.5},
{"r":"c","q":[1,2],"c":"B","x":255,"y":146,"x2":275,"y2":147},
{"r":"c","q":[1,2],"c":"B","x":255,"y":146,"x2":268,"y2":149},
{"r":"c","q":[1,2],"c":"G","x":165,"y":173,"x2":219.3,"y2":190.7},
{"r":"c","q":[1,2],"c":"G","x":219.3,"y":190.7,"x2":223,"y2":177},
{"r":"c","q":[1,2],"c":"O","x":223,"y":177,"x2":230,"y2":173},
{"r":"c","q":[1,2],"c":"O","x":230,"y":173,"x2":245,"y2":166},
{"r":"c","q":[1,2],"c":"O","x":245,"y":166,"x2":273,"y2":161.5},
{"r":"c","q":[1,2],"c":"O","x":245,"y":166,"x2":265,"y2":164},
{"r":"c","q":[1,2],"c":"O","x":245,"y":166,"x2":258,"y2":168},
{"r":"c","q":[1,2],"c":"O","x":230,"y":173,"x2":250,"y2":172},
{"r":"c","q":[1,2],"c":"O","x":250,"y":172,"x2":270,"y2":170},
{"r":"c","q":[1,2],"c":"O","x":250,"y":172,"x2":262,"y2":174.5},
{"r":"c","q":[1,2],"c":"G","x":223,"y":177,"x2":232,"y2":181},
{"r":"c","q":[1,2],"c":"G","x":232,"y":181,"x2":248,"y2":180},
{"r":"c","q":[1,2],"c":"N","x":232,"y":181,"x2":245,"y2":183},
{"r":"c","q":[1,2],"c":"G","x":219.3,"y":190.7,"x2":228,"y2":192},
{"r":"c","q":[1,2],"c":"T","x":228,"y":192,"x2":252,"y2":189},
{"r":"c","q":[1,2],"c":"G","x":228,"y":192,"x2":250,"y2":192},
{"r":"c","q":[1,2],"c":"N","x":228,"y":192,"x2":246,"y2":195},
{"r":"c","q":[1,2],"c":"G","x":219.3,"y":190.7,"x2":226,"y2":205},
{"r":"c","q":[1,2],"c":"T","x":226,"y":205,"x2":258,"y2":203.5},
{"r":"c","q":[1,2],"c":"G","x":226,"y":205,"x2":248,"y2":206.5},
{"r":"c","q":[1,2],"c":"T","x":226,"y":205,"x2":250,"y2":210},
{"r":"c","q":[1,2],"c":"G","x":226,"y":205,"x2":240,"y2":213},
{"r":"c","q":[1,2],"n":"k","x":134,"y":154.7},
{"r":"c","q":[1,2],"n":"k","x":153.3,"y":136.3},
{"r":"c","q":[1,2],"n":"k","x":210,"y":93},
{"r":"c","q":[1,2],"n":"k","x":165,"y":173},
{"r":"c","q":[1,2],"n":"k","x":188.3,"y":154.7},
{"r":"c","q":[1,2],"n":"k","x":219.3,"y":190.7},
{"r":"c","q":[1],"n":"g","x":230,"y":173},
{"r":"c","q":[3],"c":"K","x":48.3,"y":180,"x2":54.3,"y2":149},
{"r":"c","q":[3],"c":"K","x":48.3,"y":180,"x2":179.3,"y2":215.3},
{"r":"c","q":[3],"c":"K","x":48.3,"y":224.7,"x2":69.3,"y2":224.7},
{"r":"c","q":[3],"c":"R","x":54.3,"y":149,"x2":86,"y2":121.3},
{"r":"c","q":[3],"c":"K","x":54.3,"y":149,"x2":61.7,"y2":177},
{"r":"c","q":[3],"c":"R","x":86,"y":121.3,"x2":97.7,"y2":44.7},
{"r":"c","q":[3],"c":"R","x":86,"y":121.3,"x2":107.7,"y2":123},
{"r":"c","q":[3],"c":"R","x":86,"y":121.3,"x2":116,"y2":136.5},
{"r":"c","q":[3],"c":"D","x":86,"y":121.3,"x2":116,"y2":129.7},
{"r":"c","q":[3],"c":"R","x":107.7,"y":123,"x2":151,"y2":116.3},
{"r":"c","q":[3],"c":"R","x":151,"y":116.3,"x2":171,"y2":113},
{"r":"c","q":[3],"c":"R","x":151,"y":116.3,"x2":152.5,"y2":126.5},
{"r":"c","q":[3],"c":"R","x":171,"y":113,"x2":187.7,"y2":83},
{"r":"c","q":[3],"c":"R","x":171,"y":113,"x2":209.3,"y2":123},
{"r":"c","q":[3],"c":"Y","x":187.7,"y":83,"x2":192,"y2":57},
{"r":"c","q":[3],"c":"Y","x":192,"y":57,"x2":200,"y2":50},
{"r":"c","q":[3],"c":"Y","x":200,"y":50,"x2":234.3,"y2":46.3},
{"r":"c","q":[3],"c":"Y","x":200,"y":50,"x2":227.7,"y2":50},
{"r":"c","q":[3],"c":"Y","x":200,"y":50,"x2":212.7,"y2":53.5},
{"r":"c","q":[3],"c":"Y","x":192,"y":57,"x2":214,"y2":65},
{"r":"c","q":[3],"c":"Y","x":214,"y":65,"x2":249.3,"y2":65.7},
{"r":"c","q":[3],"c":"Y","x":214,"y":65,"x2":225,"y2":62},
{"r":"c","q":[3],"c":"R","x":187.7,"y":83,"x2":196,"y2":73},
{"r":"c","q":[3],"c":"R","x":196,"y":73,"x2":205,"y2":71},
{"r":"c","q":[3],"c":"D","x":196,"y":73,"x2":208,"y2":76},
{"r":"c","q":[3],"c":"Y","x":187.7,"y":83,"x2":205,"y2":82},
{"r":"c","q":[3],"c":"Y","x":205,"y":82,"x2":226,"y2":80},
{"r":"c","q":[3],"c":"Y","x":205,"y":82,"x2":232,"y2":85},
{"r":"c","q":[3],"c":"Y","x":187.7,"y":83,"x2":216,"y2":91},
{"r":"c","q":[3],"c":"Y","x":216,"y":91,"x2":245,"y2":92},
{"r":"c","q":[3],"c":"Y","x":216,"y":91,"x2":261,"y2":95},
{"r":"c","q":[3],"c":"R","x":187.7,"y":83,"x2":200,"y2":103},
{"r":"c","q":[3],"c":"R","x":200,"y":103,"x2":222,"y2":98},
{"r":"c","q":[3],"c":"R","x":222,"y":98,"x2":244.3,"y2":101},
{"r":"c","q":[3],"c":"R","x":200,"y":103,"x2":215,"y2":105},
{"r":"c","q":[3],"c":"T","x":215,"y":105,"x2":279.3,"y2":104.7},
{"r":"c","q":[3],"c":"Y","x":215,"y":105,"x2":230,"y2":107.3},
{"r":"c","q":[3],"c":"R","x":215,"y":105,"x2":225,"y2":110},
{"r":"c","q":[3],"c":"R","x":200,"y":103,"x2":212,"y2":116},
{"r":"c","q":[3],"c":"Y","x":212,"y":116,"x2":234,"y2":116.3},
{"r":"c","q":[3],"c":"R","x":212,"y":116,"x2":222,"y2":113},
{"r":"c","q":[3],"c":"G","x":61.7,"y":177,"x2":79.3,"y2":152.3},
{"r":"c","q":[3],"c":"B","x":61.7,"y":177,"x2":102.7,"y2":202},
{"r":"c","q":[3],"c":"G","x":79.3,"y":152.3,"x2":96,"y2":141.3},
{"r":"c","q":[3],"c":"G","x":79.3,"y":152.3,"x2":103.3,"y2":153},
{"r":"c","q":[3],"c":"G","x":103.3,"y":153,"x2":117.7,"y2":146.3},
{"r":"c","q":[3],"c":"M","x":117.7,"y":146.3,"x2":129,"y2":144.7},
{"r":"c","q":[3],"c":"G","x":117.7,"y":146.3,"x2":139.3,"y2":152.3},
{"r":"c","q":[3],"c":"G","x":139.3,"y":152.3,"x2":174.3,"y2":150},
{"r":"c","q":[3],"c":"O","x":174.3,"y":150,"x2":183,"y2":146},
{"r":"c","q":[3],"c":"O","x":174.3,"y":150,"x2":191,"y2":152},
{"r":"c","q":[3],"c":"G","x":174.3,"y":150,"x2":192.7,"y2":161.3},
{"r":"c","q":[3],"c":"G","x":192.7,"y":161.3,"x2":215,"y2":159},
{"r":"c","q":[3],"c":"D","x":215,"y":159,"x2":237.7,"y2":159.7},
{"r":"c","q":[3],"c":"T","x":215,"y":159,"x2":243,"y2":162.3},
{"r":"c","q":[3],"c":"G","x":192.7,"y":161.3,"x2":209,"y2":166},
{"r":"c","q":[3],"c":"G","x":209,"y":166,"x2":279.3,"y2":167},
{"r":"c","q":[3],"c":"T","x":209,"y":166,"x2":228,"y2":164.5},
{"r":"c","q":[3],"c":"G","x":103.3,"y":153,"x2":126,"y2":175},
{"r":"c","q":[3],"c":"G","x":126,"y":175,"x2":202.7,"y2":176.3},
{"r":"c","q":[3],"c":"O","x":126,"y":175,"x2":159.3,"y2":181.3},
{"r":"c","q":[3],"c":"G","x":126,"y":175,"x2":141,"y2":173.5},
{"r":"c","q":[3],"c":"G","x":103.3,"y":153,"x2":108,"y2":187},
{"r":"c","q":[3],"c":"T","x":108,"y":187,"x2":151,"y2":185},
{"r":"c","q":[3],"c":"G","x":108,"y":187,"x2":134,"y2":188.7},
{"r":"c","q":[3],"c":"T","x":108,"y":187,"x2":148,"y2":192},
{"r":"c","q":[3],"c":"B","x":102.7,"y":202,"x2":103.5,"y2":208.5},
{"r":"c","q":[3],"c":"B","x":102.7,"y":202,"x2":116,"y2":203},
{"r":"c","q":[3],"c":"B","x":116,"y":203,"x2":141,"y2":199},
{"r":"c","q":[3],"c":"B","x":141,"y":199,"x2":189.3,"y2":201.3},
{"r":"c","q":[3],"c":"B","x":141,"y":199,"x2":149.3,"y2":197},
{"r":"c","q":[3],"c":"B","x":116,"y":203,"x2":142.7,"y2":206.3},

{"r":"d","q":[1],"t":"(d)","s":"l","x":12.7,"y":25.3},
{"r":"d","q":[1],"t":"D-3564snps-all_loci","s":"t","x":44.3,"y":25.3},
{"r":"d","q":[2],"t":"D-3482snps-neutral_loci","s":"t","x":44,"y":25.3},
{"r":"d","q":[3],"t":"D-82snps-outlier_loci","s":"t","x":47.7,"y":25.3},
{"r":"d","q":[1,2],"t":"Outgroup","s":"o","x":241.7,"y":210.3},
{"r":"d","q":[1,2],"t":"0.02","s":"b","x":51.7,"y":224.3},
{"r":"d","q":[3],"t":"Outgroup","s":"o","x":87.7,"y":216},
{"r":"d","q":[3],"t":"0.1","s":"b","x":55.3,"y":234.7},
{"r":"d","q":[1,2],"c":"K","x":45,"y":175,"x2":51,"y2":139.3},
{"r":"d","q":[1,2],"c":"K","x":45,"y":175,"x2":166.7,"y2":210.3},
{"r":"d","q":[1,2],"c":"K","x":166.7,"y":208.1,"x2":166.7,"y2":212.5},
{"r":"d","q":[1,2],"c":"K","x":178.3,"y":208.1,"x2":178.3,"y2":212.5},
{"r":"d","q":[1,2],"c":"K","x":178.3,"y":210.3,"x2":231.7,"y2":210.3},
{"r":"d","q":[1,2],"c":"K","x":45,"y":215.3,"x2":72.7,"y2":215.3},
{"r":"d","q":[1,2],"c":"R","x":51,"y":139.3,"x2":90,"y2":120.3},
{"r":"d","q":[1,2],"c":"K","x":51,"y":139.3,"x2":91,"y2":162},
{"r":"d","q":[1,2],"c":"R","x":90,"y":120.3,"x2":93,"y2":128},
{"r":"d","q":[1,2],"c":"R","x":90,"y":120.3,"x2":97,"y2":113},
{"r":"d","q":[1,2],"c":"R","x":97,"y":113,"x2":104,"y2":106},
{"r":"d","q":[1,2],"c":"R","x":104,"y":106,"x2":112,"y2":99},
{"r":"d","q":[1,2],"c":"R","x":112,"y":99,"x2":125,"y2":93},
{"r":"d","q":[1,2],"c":"R","x":97,"y":113,"x2":108,"y2":120},
{"r":"d","q":[1,2],"c":"P","x":108,"y":120,"x2":161.7,"y2":118.7},
{"r":"d","q":[1,2],"c":"R","x":108,"y":120,"x2":140,"y2":122},
{"r":"d","q":[1,2],"c":"M","x":108,"y":120,"x2":130,"y2":125},
{"r":"d","q":[1,2],"c":"R","x":104,"y":106,"x2":118,"y2":112},
{"r":"d","q":[1,2],"c":"P","x":118,"y":112,"x2":160,"y2":110},
{"r":"d","q":[1,2],"c":"R","x":118,"y":112,"x2":173,"y2":108.5},
{"r":"d","q":[1,2],"c":"R","x":118,"y":112,"x2":150,"y2":114.5},
{"r":"d","q":[1,2],"c":"R","x":112,"y":99,"x2":125,"y2":104},
{"r":"d","q":[1,2],"c":"M","x":125,"y":104,"x2":173.3,"y2":101.5},
{"r":"d","q":[1,2],"c":"D","x":125,"y":104,"x2":160,"y2":104.5},
{"r":"d","q":[1,2],"c":"R","x":125,"y":104,"x2":155,"y2":99.5},
{"r":"d","q":[1,2],"c":"R","x":125,"y":93,"x2":135,"y2":97},
{"r":"d","q":[1,2],"c":"P","x":135,"y":97,"x2":180,"y2":96},
{"r":"d","q":[1,2],"c":"M","x":135,"y":97,"x2":170,"y2":98.5},
{"r":"d","q":[1,2],"c":"Y","x":125,"y":93,"x2":161.7,"y2":88},
{"r":"d","q":[1,2],"c":"Y","x":161.7,"y":88,"x2":169.7,"y2":78.5},
{"r":"d","q":[1,2],"c":"Y","x":169.7,"y":78.5,"x2":175.7,"y2":69.6},
{"r":"d","q":[1,2],"c":"Y","x":175.7,"y":69.6,"x2":182.7,"y2":60.7},
{"r":"d","q":[1,2],"c":"Y","x":182.7,"y":60.7,"x2":188.7,"y2":52.7},
{"r":"d","q":[1,2],"c":"Y","x":188.7,"y":52.7,"x2":195.7,"y2":47.3},
{"r":"d","q":[1,2],"c":"Y","x":161.7,"y":88,"x2":185.7,"y2":89.2},
{"r":"d","q":[1,2],"c":"Y","x":185.7,"y":89.2,"x2":205.7,"y2":90.9},
{"r":"d","q":[1,2],"c":"Y","x":185.7,"y":89.2,"x2":212.7,"y2":87.8},
{"r":"d","q":[1,2],"c":"Y","x":169.7,"y":78.5,"x2":191.7,"y2":82},
{"r":"d","q":[1,2],"c":"Y","x":191.7,"y":82,"x2":214.7,"y2":80.3},
{"r":"d","q":[1,2],"c":"Y","x":191.7,"y":82,"x2":217.7,"y2":82.9},
{"r":"d","q":[1,2],"c":"Y","x":191.7,"y":82,"x2":209.7,"y2":85.6},
{"r":"d","q":[1,2],"c":"Y","x":175.7,"y":69.6,"x2":197.7,"y2":74},
{"r":"d","q":[1,2],"c":"Y","x":197.7,"y":74,"x2":219.7,"y2":72.2},
{"r":"d","q":[1,2],"c":"Y","x":197.7,"y":74,"x2":223.7,"y2":74.9},
{"r":"d","q":[1,2],"c":"Y","x":197.7,"y":74,"x2":217.7,"y2":77.1},
{"r":"d","q":[1,2],"c":"Y","x":182.7,"y":60.7,"x2":203.7,"y2":66},
{"r":"d","q":[1,2],"c":"Y","x":203.7,"y":66,"x2":226.7,"y2":64.2},
{"r":"d","q":[1,2],"c":"Y","x":203.7,"y":66,"x2":230.7,"y2":66.9},
{"r":"d","q":[1,2],"c":"Y","x":203.7,"y":66,"x2":225.7,"y2":69.6},
{"r":"d","q":[1,2],"c":"Y","x":188.7,"y":52.7,"x2":209.7,"y2":57.1},
{"r":"d","q":[1,2],"c":"Y","x":209.7,"y":57.1,"x2":229.7,"y2":58.9},
{"r":"d","q":[1,2],"c":"Y","x":209.7,"y":57.1,"x2":234.7,"y2":56.2},
{"r":"d","q":[1,2],"c":"Y","x":209.7,"y":57.1,"x2":233.7,"y2":61.6},
{"r":"d","q":[1,2],"c":"Y","x":195.7,"y":47.3,"x2":245.7,"y2":43.8},
{"r":"d","q":[1,2],"c":"Y","x":195.7,"y":47.3,"x2":241.7,"y2":46},
{"r":"d","q":[1,2],"c":"Y","x":195.7,"y":47.3,"x2":237.7,"y2":48.2},
{"r":"d","q":[1,2],"c":"Y","x":195.7,"y":47.3,"x2":232.7,"y2":50.9},
{"r":"d","q":[1,2],"c":"Y","x":195.7,"y":47.3,"x2":238.7,"y2":53.5},
{"r":"d","q":[1,2],"c":"B","x":91,"y":162,"x2":126,"y2":143.7},
{"r":"d","q":[1,2],"c":"B","x":126,"y":143.7,"x2":165,"y2":146.5},
{"r":"d","q":[1,2],"c":"B","x":126,"y":143.7,"x2":150,"y2":140},
{"r":"d","q":[1,2],"c":"B","x":150,"y":140,"x2":185,"y2":138.5},
{"r":"d","q":[1,2],"c":"B","x":150,"y":140,"x2":196.7,"y2":141.5},
{"r":"d","q":[1,2],"c":"B","x":150,"y":140,"x2":180,"y2":136},
{"r":"d","q":[1,2],"c":"B","x":180,"y":136,"x2":230,"y2":135},
{"r":"d","q":[1,2],"c":"B","x":230,"y":135,"x2":255,"y2":133.8},
{"r":"d","q":[1,2],"c":"B","x":230,"y":135,"x2":250,"y2":136.5},
{"r":"d","q":[1,2],"c":"G","x":91,"y":162,"x2":176.7,"y2":178.7},
{"r":"d","q":[1,2],"c":"G","x":176.7,"y":178.7,"x2":184,"y2":162},
{"r":"d","q":[1,2],"c":"O","x":184,"y":162,"x2":204.3,"y2":153},
{"r":"d","q":[1,2],"c":"O","x":204.3,"y":153,"x2":218,"y2":149},
{"r":"d","q":[1,2],"c":"O","x":218,"y":149,"x2":240,"y2":147.5},
{"r":"d","q":[1,2],"c":"O","x":218,"y":149,"x2":235,"y2":150.5},
{"r":"d","q":[1,2],"c":"O","x":204.3,"y":153,"x2":225,"y2":157},
{"r":"d","q":[1,2],"c":"O","x":225,"y":157,"x2":256.7,"y2":158},
{"r":"d","q":[1,2],"c":"O","x":225,"y":157,"x2":250,"y2":155},
{"r":"d","q":[1,2],"c":"O","x":225,"y":157,"x2":245,"y2":160.5},
{"r":"d","q":[1,2],"c":"G","x":184,"y":162,"x2":200,"y2":168},
{"r":"d","q":[1,2],"c":"N","x":200,"y":168,"x2":222,"y2":166},
{"r":"d","q":[1,2],"c":"G","x":200,"y":168,"x2":215,"y2":169.5},
{"r":"d","q":[1,2],"c":"G","x":176.7,"y":178.7,"x2":190,"y2":187},
{"r":"d","q":[1,2],"c":"G","x":190,"y":187,"x2":205,"y2":178},
{"r":"d","q":[1,2],"c":"T","x":205,"y":178,"x2":256.7,"y2":174.5},
{"r":"d","q":[1,2],"c":"T","x":205,"y":178,"x2":240,"y2":177},
{"r":"d","q":[1,2],"c":"G","x":205,"y":178,"x2":230,"y2":180},
{"r":"d","q":[1,2],"c":"G","x":190,"y":187,"x2":210,"y2":188},
{"r":"d","q":[1,2],"c":"T","x":210,"y":188,"x2":245,"y2":185},
{"r":"d","q":[1,2],"c":"G","x":210,"y":188,"x2":238,"y2":188.5},
{"r":"d","q":[1,2],"c":"N","x":210,"y":188,"x2":247,"y2":191},
{"r":"d","q":[1,2],"c":"G","x":190,"y":187,"x2":205,"y2":196},
{"r":"d","q":[1,2],"c":"T","x":205,"y":196,"x2":246,"y2":194},
{"r":"d","q":[1,2],"c":"N","x":205,"y":196,"x2":240,"y2":197},
{"r":"d","q":[1,2],"c":"G","x":176.7,"y":178.7,"x2":182,"y2":198},
{"r":"d","q":[1,2],"c":"G","x":182,"y":198,"x2":214,"y2":197.5},
{"r":"d","q":[1,2],"c":"G","x":182,"y":198,"x2":198,"y2":199.5},
{"r":"d","q":[1,2],"n":"k","x":51,"y":139.3},
{"r":"d","q":[1,2],"n":"k","x":90,"y":120.3},
{"r":"d","q":[1],"n":"k","x":161.7,"y":88},
{"r":"d","q":[1,2],"n":"k","x":126,"y":143.7},
{"r":"d","q":[1,2],"n":"k","x":91,"y":162},
{"r":"d","q":[1,2],"n":"k","x":176.7,"y":178.7},
{"r":"d","q":[1],"n":"k","x":204.3,"y":153},
{"r":"d","q":[2],"n":"g","x":204.3,"y":153},
{"r":"d","q":[3],"c":"K","x":49.3,"y":175,"x2":57.7,"y2":138},
{"r":"d","q":[3],"c":"K","x":49.3,"y":175,"x2":79.3,"y2":216},
{"r":"d","q":[3],"c":"K","x":50.3,"y":227,"x2":73.7,"y2":227},
{"r":"d","q":[3],"c":"R","x":57.7,"y":138,"x2":139.3,"y2":133.7},
{"r":"d","q":[3],"c":"K","x":57.7,"y":138,"x2":127,"y2":142},
{"r":"d","q":[3],"c":"R","x":139.3,"y":133.7,"x2":147.7,"y2":124},
{"r":"d","q":[3],"c":"R","x":139.3,"y":133.7,"x2":146,"y2":136.5},
{"r":"d","q":[3],"c":"R","x":147.7,"y":124,"x2":151,"y2":118},
{"r":"d","q":[3],"c":"R","x":151,"y":118,"x2":153,"y2":54},
{"r":"d","q":[3],"c":"R","x":151,"y":118,"x2":155,"y2":112},
{"r":"d","q":[3],"c":"Y","x":153,"y":54,"x2":155,"y2":43.7},
{"r":"d","q":[3],"c":"R","x":153,"y":54,"x2":159.3,"y2":58.7},
{"r":"d","q":[3],"c":"Y","x":151,"y":110,"x2":152.5,"y2":88},
{"r":"d","q":[3],"c":"B","x":127,"y":142,"x2":179.3,"y2":145.3},
{"r":"d","q":[3],"c":"B","x":179.3,"y":145.3,"x2":207.7,"y2":142},
{"r":"d","q":[3],"c":"B","x":179.3,"y":145.3,"x2":194.3,"y2":148},
{"r":"d","q":[3],"c":"B","x":194.3,"y":148,"x2":217.7,"y2":146.7},
{"r":"d","q":[3],"c":"B","x":194.3,"y":148,"x2":217.7,"y2":149.3},
{"r":"d","q":[3],"c":"B","x":179.3,"y":145.3,"x2":207.7,"y2":154},
{"r":"d","q":[3],"c":"B","x":207.7,"y":154,"x2":234.3,"y2":155},
{"r":"d","q":[3],"c":"B","x":234.3,"y":155,"x2":242.7,"y2":150.3},
{"r":"d","q":[3],"c":"B","x":234.3,"y":155,"x2":246,"y2":153.7},
{"r":"d","q":[3],"c":"B","x":234.3,"y":155,"x2":242,"y2":160.3},
{"r":"d","q":[3],"c":"G","x":242,"y":160.3,"x2":278.7,"y2":181.3},
{"r":"d","q":[3],"c":"G","x":278.7,"y":181.3,"x2":282.7,"y2":157},
{"r":"d","q":[3],"c":"G","x":278.7,"y":181.3,"x2":282.7,"y2":212},
{"r":"d","q":[3],"c":"O","x":278.7,"y":181.3,"x2":283.5,"y2":168},
{"r":"d","q":[3],"n":"w","x":57.7,"y":138},
{"r":"d","q":[3],"n":"k","x":139.3,"y":133.7},
{"r":"d","q":[3],"n":"k","x":179.3,"y":145.3},
{"r":"d","q":[3],"n":"k","x":278.7,"y":181.3},

{"r":"e","q":[1],"t":"(e)","s":"l","x":14,"y":26},
{"r":"e","q":[1],"t":"E-1887snps-all_loci","s":"t","x":44.3,"y":26},
{"r":"e","q":[2],"t":"E-1795snps-neutral_loci","s":"t","x":44,"y":26},
{"r":"e","q":[3],"t":"E-92snps-outlier_loci","s":"t","x":47.7,"y":26},
{"r":"e","q":[1,2],"t":"Outgroup","s":"o","x":136,"y":226},
{"r":"e","q":[1,2],"t":"0.03","s":"b","x":50.7,"y":240.3},
{"r":"e","q":[3],"t":"Outgroup","s":"o","x":79.3,"y":225.3},
{"r":"e","q":[3],"t":"0.2","s":"b","x":65.3,"y":241},
{"r":"e","q":[1,2],"c":"K","x":50,"y":193,"x2":131,"y2":160},
{"r":"e","q":[1,2],"c":"K","x":50,"y":193,"x2":130,"y2":226},
{"r":"e","q":[1,2],"c":"K","x":50.7,"y":232.7,"x2":67.7,"y2":232.7},
{"r":"e","q":[1,2],"c":"R","x":131,"y":160,"x2":167.3,"y2":139.3},
{"r":"e","q":[1,2],"c":"K","x":131,"y":160,"x2":164,"y2":178.7},
{"r":"e","q":[1,2],"c":"R","x":167.3,"y":139.3,"x2":169,"y2":143},
{"r":"e","q":[1,2],"c":"R","x":167.3,"y":139.3,"x2":174,"y2":130},
{"r":"e","q":[1,2],"c":"R","x":174,"y":130,"x2":181,"y2":121},
{"r":"e","q":[1,2],"c":"R","x":181,"y":121,"x2":188,"y2":112},
{"r":"e","q":[1,2],"c":"R","x":188,"y":112,"x2":196.7,"y2":103},
{"r":"e","q":[1,2],"c":"R","x":174,"y":130,"x2":186,"y2":134},
{"r":"e","q":[1,2],"c":"M","x":186,"y":134,"x2":205,"y2":136},
{"r":"e","q":[1,2],"c":"D","x":186,"y":134,"x2":200,"y2":139},
{"r":"e","q":[1,2],"c":"R","x":186,"y":134,"x2":210,"y2":131.5},
{"r":"e","q":[1,2],"c":"R","x":181,"y":121,"x2":192,"y2":126},
{"r":"e","q":[1,2],"c":"P","x":192,"y":126,"x2":220,"y2":126.5},
{"r":"e","q":[1,2],"c":"M","x":192,"y":126,"x2":218,"y2":124},
{"r":"e","q":[1,2],"c":"R","x":192,"y":126,"x2":210,"y2":129},
{"r":"e","q":[1,2],"c":"R","x":188,"y":112,"x2":198,"y2":117},
{"r":"e","q":[1,2],"c":"P","x":198,"y":117,"x2":240,"y2":121},
{"r":"e","q":[1,2],"c":"R","x":198,"y":117,"x2":225,"y2":116},
{"r":"e","q":[1,2],"c":"M","x":198,"y":117,"x2":230,"y2":113},
{"r":"e","q":[1,2],"c":"R","x":196.7,"y":103,"x2":205,"y2":106},
{"r":"e","q":[1,2],"c":"P","x":205,"y":106,"x2":248,"y2":105.3},
{"r":"e","q":[1,2],"c":"M","x":205,"y":106,"x2":231,"y2":103.5},
{"r":"e","q":[1,2],"c":"R","x":205,"y":106,"x2":225,"y2":108.5},
{"r":"e","q":[1,2],"c":"Y","x":196.7,"y":103,"x2":225,"y2":96},
{"r":"e","q":[1,2],"c":"Y","x":225,"y":96,"x2":230.8,"y2":84.6},
{"r":"e","q":[1,2],"c":"Y","x":230.8,"y":84.6,"x2":235.2,"y2":73.9},
{"r":"e","q":[1,2],"c":"Y","x":235.2,"y":73.9,"x2":240.3,"y2":63.2},
{"r":"e","q":[1,2],"c":"Y","x":240.3,"y":63.2,"x2":244.7,"y2":53.5},
{"r":"e","q":[1,2],"c":"Y","x":244.7,"y":53.5,"x2":249.8,"y2":47.1},
{"r":"e","q":[1,2],"c":"Y","x":225,"y":96,"x2":242.5,"y2":97.4},
{"r":"e","q":[1,2],"c":"Y","x":242.5,"y":97.4,"x2":257.1,"y2":99.5},
{"r":"e","q":[1,2],"c":"Y","x":242.5,"y":97.4,"x2":262.2,"y2":95.8},
{"r":"e","q":[1,2],"c":"Y","x":230.8,"y":84.6,"x2":246.9,"y2":88.8},
{"r":"e","q":[1,2],"c":"Y","x":246.9,"y":88.8,"x2":263.7,"y2":86.7},
{"r":"e","q":[1,2],"c":"Y","x":246.9,"y":88.8,"x2":265.9,"y2":89.9},
{"r":"e","q":[1,2],"c":"Y","x":246.9,"y":88.8,"x2":260,"y2":93.1},
{"r":"e","q":[1,2],"c":"Y","x":235.2,"y":73.9,"x2":251.3,"y2":79.2},
{"r":"e","q":[1,2],"c":"Y","x":251.3,"y":79.2,"x2":267.3,"y2":77.1},
{"r":"e","q":[1,2],"c":"Y","x":251.3,"y":79.2,"x2":270.3,"y2":80.3},
{"r":"e","q":[1,2],"c":"Y","x":251.3,"y":79.2,"x2":265.9,"y2":83},
{"r":"e","q":[1,2],"c":"Y","x":240.3,"y":63.2,"x2":255.7,"y2":69.6},
{"r":"e","q":[1,2],"c":"Y","x":255.7,"y":69.6,"x2":272.5,"y2":67.4},
{"r":"e","q":[1,2],"c":"Y","x":255.7,"y":69.6,"x2":275.4,"y2":70.6},
{"r":"e","q":[1,2],"c":"Y","x":255.7,"y":69.6,"x2":271.7,"y2":73.9},
{"r":"e","q":[1,2],"c":"Y","x":244.7,"y":53.5,"x2":260,"y2":58.9},
{"r":"e","q":[1,2],"c":"Y","x":260,"y":58.9,"x2":274.6,"y2":61},
{"r":"e","q":[1,2],"c":"Y","x":260,"y":58.9,"x2":278.3,"y2":57.8},
{"r":"e","q":[1,2],"c":"Y","x":260,"y":58.9,"x2":277.6,"y2":64.2},
{"r":"e","q":[1,2],"c":"Y","x":249.8,"y":47.1,"x2":286.3,"y2":42.8},
{"r":"e","q":[1,2],"c":"Y","x":249.8,"y":47.1,"x2":283.4,"y2":45.5},
{"r":"e","q":[1,2],"c":"Y","x":249.8,"y":47.1,"x2":280.5,"y2":48.2},
{"r":"e","q":[1,2],"c":"Y","x":249.8,"y":47.1,"x2":276.8,"y2":51.4},
{"r":"e","q":[1,2],"c":"Y","x":249.8,"y":47.1,"x2":281.2,"y2":54.6},
{"r":"e","q":[1,2],"c":"B","x":164,"y":178.7,"x2":192.3,"y2":160},
{"r":"e","q":[1,2],"c":"B","x":192.3,"y":160,"x2":246.7,"y2":162.5},
{"r":"e","q":[1,2],"c":"B","x":192.3,"y":160,"x2":215,"y2":156},
{"r":"e","q":[1,2],"c":"B","x":215,"y":156,"x2":250,"y2":157.5},
{"r":"e","q":[1,2],"c":"B","x":215,"y":156,"x2":240,"y2":154},
{"r":"e","q":[1,2],"c":"B","x":215,"y":156,"x2":240,"y2":151.5},
{"r":"e","q":[1,2],"c":"B","x":240,"y":151.5,"x2":275,"y2":149.5},
{"r":"e","q":[1,2],"c":"B","x":275,"y":149.5,"x2":295,"y2":147.8},
{"r":"e","q":[1,2],"c":"B","x":275,"y":149.5,"x2":292,"y2":150.8},
{"r":"e","q":[1,2],"c":"G","x":164,"y":178.7,"x2":236,"y2":196.7},
{"r":"e","q":[1,2],"c":"G","x":236,"y":196.7,"x2":240,"y2":181},
{"r":"e","q":[1,2],"c":"O","x":240,"y":181,"x2":250.7,"y2":177.5},
{"r":"e","q":[1,2],"c":"O","x":250.7,"y":177.5,"x2":265,"y2":170},
{"r":"e","q":[1,2],"c":"O","x":265,"y":170,"x2":298,"y2":165.5},
{"r":"e","q":[1,2],"c":"O","x":265,"y":170,"x2":290,"y2":168.5},
{"r":"e","q":[1,2],"c":"O","x":265,"y":170,"x2":280,"y2":172},
{"r":"e","q":[1,2],"c":"O","x":250.7,"y":177.5,"x2":268,"y2":176.5},
{"r":"e","q":[1,2],"c":"O","x":268,"y":176.5,"x2":296,"y2":175.5},
{"r":"e","q":[1,2],"c":"O","x":268,"y":176.5,"x2":282,"y2":178.5},
{"r":"e","q":[1,2],"c":"G","x":240,"y":181,"x2":255,"y2":185},
{"r":"e","q":[1,2],"c":"G","x":255,"y":185,"x2":275,"y2":183.5},
{"r":"e","q":[1,2],"c":"G","x":236,"y":196.7,"x2":248,"y2":195},
{"r":"e","q":[1,2],"c":"G","x":248,"y":195,"x2":258,"y2":192},
{"r":"e","q":[1,2],"c":"N","x":258,"y":192,"x2":276,"y2":190.5},
{"r":"e","q":[1,2],"c":"G","x":258,"y":192,"x2":270,"y2":194},
{"r":"e","q":[1,2],"c":"G","x":248,"y":195,"x2":262,"y2":201},
{"r":"e","q":[1,2],"c":"T","x":262,"y":201,"x2":278,"y2":199.5},
{"r":"e","q":[1,2],"c":"G","x":262,"y":201,"x2":274,"y2":203},
{"r":"e","q":[1,2],"c":"T","x":262,"y":201,"x2":270,"y2":206.5},
{"r":"e","q":[1,2],"c":"G","x":236,"y":196.7,"x2":245,"y2":215},
{"r":"e","q":[1,2],"c":"T","x":245,"y":215,"x2":283,"y2":213.5},
{"r":"e","q":[1,2],"c":"G","x":245,"y":215,"x2":270,"y2":210},
{"r":"e","q":[1,2],"c":"D","x":245,"y":215,"x2":268,"y2":217},
{"r":"e","q":[1,2],"c":"T","x":245,"y":215,"x2":262,"y2":221},
{"r":"e","q":[1,2],"n":"k","x":131,"y":160},
{"r":"e","q":[1,2],"n":"k","x":167.3,"y":139.3},
{"r":"e","q":[1,2],"n":"k","x":225,"y":96},
{"r":"e","q":[1,2],"n":"k","x":164,"y":178.7},
{"r":"e","q":[1,2],"n":"k","x":192.3,"y":160},
{"r":"e","q":[1,2],"n":"k","x":236,"y":196.7},
{"r":"e","q":[1],"n":"g","x":250.7,"y":177.5},
{"r":"e","q":[2],"n":"w","x":250.7,"y":177.5},
{"r":"e","q":[3],"c":"K","x":49.3,"y":205,"x2":74.3,"y2":186},
{"r":"e","q":[3],"c":"K","x":49.3,"y":205,"x2":74.3,"y2":225.3},
{"r":"e","q":[3],"c":"K","x":49.3,"y":234.3,"x2":94.3,"y2":234.3},
{"r":"e","q":[3],"c":"K","x":74.3,"y":186,"x2":74.3,"y2":149.3},
{"r":"e","q":[3],"c":"R","x":74.3,"y":149.3,"x2":136.7,"y2":81},
{"r":"e","q":[3],"c":"K","x":74.3,"y":186,"x2":139.3,"y2":217},
{"r":"e","q":[3],"c":"R","x":136.7,"y":81,"x2":137.5,"y2":42.7},
{"r":"e","q":[3],"c":"R","x":136.7,"y":81,"x2":140,"y2":121},
{"r":"e","q":[3],"c":"Y","x":136.7,"y":81,"x2":143,"y2":77},
{"r":"e","q":[3],"c":"Y","x":143,"y":77,"x2":147.7,"y2":44.3},
{"r":"e","q":[3],"c":"Y","x":143,"y":77,"x2":145,"y2":117.7},
{"r":"e","q":[3],"c":"Y","x":143,"y":77,"x2":147,"y2":87.7},
{"r":"e","q":[3],"c":"P","x":143,"y":100,"x2":145,"y2":108},
{"r":"e","q":[3],"c":"R","x":140,"y":121,"x2":141,"y2":141},
{"r":"e","q":[3],"c":"D","x":140,"y":121,"x2":143,"y2":124},
{"r":"e","q":[3],"c":"D","x":140,"y":121,"x2":143,"y2":131},
{"r":"e","q":[3],"c":"D","x":140,"y":121,"x2":143,"y2":137},
{"r":"e","q":[3],"c":"B","x":139.3,"y":217,"x2":181,"y2":214.3},
{"r":"e","q":[3],"c":"B","x":181,"y":214.3,"x2":226,"y2":217.7},
{"r":"e","q":[3],"c":"B","x":181,"y":214.3,"x2":192.7,"y2":208.7},
{"r":"e","q":[3],"c":"B","x":192.7,"y":208.7,"x2":212,"y2":210.3},
{"r":"e","q":[3],"c":"B","x":192.7,"y":208.7,"x2":227.7,"y2":206.5},
{"r":"e","q":[3],"c":"B","x":227.7,"y":206.5,"x2":239,"y2":208},
{"r":"e","q":[3],"c":"B","x":227.7,"y":206.5,"x2":236,"y2":203},
{"r":"e","q":[3],"c":"G","x":236,"y":203,"x2":283.7,"y2":201},
{"r":"e","q":[3],"c":"G","x":283.7,"y":201,"x2":294.3,"y2":144.3},
{"r":"e","q":[3],"c":"G","x":283.7,"y":201,"x2":290,"y2":199},
{"r":"e","q":[3],"c":"Y","x":294.3,"y":176,"x2":296,"y2":174},
{"r":"e","q":[3],"n":"g","x":136.7,"y":81},
{"r":"e","q":[3],"n":"g","x":139.3,"y":217},
{"r":"e","q":[3],"n":"k","x":283.7,"y":201}
]},
"transform":[{"flatten":["q"]}],
"facet":{
  "row":{"field":"r","type":"nominal","header":null},
  "column":{"field":"q","type":"ordinal","header":null}
},
"spacing":{"row":0,"column":46},
"spec":{
  "width":296,
  "height":241,
  "layer":[
    {
      "transform":[{"filter":"datum.c"}],
      "mark":{"type":"rule","strokeWidth":1.4,"strokeCap":"square"},
      "encoding":{
        "x":{"field":"x","type":"quantitative","scale":{"domain":[0,296],"nice":false,"zero":false},"axis":null},
        "y":{"field":"y","type":"quantitative","scale":{"domain":[0,241],"nice":false,"zero":false,"reverse":true},"axis":null},
        "y2":{"field":"y2"},
        "color":{"field":"c","type":"nominal","legend":null,
          "scale":{"domain":["K","R","Y","P","M","D","B","O","G","T","N"],
                   "range":["#3a3a3a","#e8342e","#f3d02a","#ee72e4","#ab5256","#6e2c2c","#3f9fe5","#aca42e","#41b53b","#38c99b","#2f8a47"]}}
      }
    },
    {
      "transform":[{"filter":"datum.c"}],
      "mark":{"type":"rule","strokeWidth":1.4,"strokeCap":"square"},
      "encoding":{
        "x":{"field":"x","type":"quantitative","axis":null},
        "x2":{"field":"x2"},
        "y":{"field":"y2","type":"quantitative","axis":null},
        "color":{"field":"c","type":"nominal","legend":null}
      }
    },
    {
      "transform":[{"filter":"datum.n"}],
      "mark":{"type":"point","shape":"circle","filled":true,"size":50,"stroke":"#1a1a1a","strokeWidth":0.9,"opacity":1},
      "encoding":{
        "x":{"field":"x","type":"quantitative","axis":null},
        "y":{"field":"y","type":"quantitative","axis":null},
        "fill":{"field":"n","type":"nominal","legend":null,
          "scale":{"domain":["k","g","w"],"range":["#111111","#9c9c9c","#ffffff"]}}
      }
    },
    {
      "transform":[{"filter":"datum.s === 'h'"}],
      "mark":{"type":"text","align":"left","baseline":"middle","font":"Liberation Sans","fontSize":28.5,"color":"#111111"},
      "encoding":{"x":{"field":"x","type":"quantitative","axis":null},"y":{"field":"y","type":"quantitative","axis":null},"text":{"field":"t"}}
    },
    {
      "transform":[{"filter":"datum.s === 'l'"}],
      "mark":{"type":"text","align":"left","baseline":"middle","font":"Liberation Sans","fontSize":20.5,"color":"#111111"},
      "encoding":{"x":{"field":"x","type":"quantitative","axis":null},"y":{"field":"y","type":"quantitative","axis":null},"text":{"field":"t"}}
    },
    {
      "transform":[{"filter":"datum.s === 't'"}],
      "mark":{"type":"text","align":"left","baseline":"middle","font":"Liberation Sans","fontSize":19,"color":"#111111"},
      "encoding":{"x":{"field":"x","type":"quantitative","axis":null},"y":{"field":"y","type":"quantitative","axis":null},"text":{"field":"t"}}
    },
    {
      "transform":[{"filter":"datum.s === 'o'"}],
      "mark":{"type":"text","align":"left","baseline":"middle","font":"Liberation Sans","fontSize":14.5,"color":"#1a1a1a"},
      "encoding":{"x":{"field":"x","type":"quantitative","axis":null},"y":{"field":"y","type":"quantitative","axis":null},"text":{"field":"t"}}
    },
    {
      "transform":[{"filter":"datum.s === 'b'"}],
      "mark":{"type":"text","align":"left","baseline":"middle","font":"Liberation Sans","fontSize":9.5,"color":"#333333"},
      "encoding":{"x":{"field":"x","type":"quantitative","axis":null},"y":{"field":"y","type":"quantitative","axis":null},"text":{"field":"t"}}
    }
  ]
}
}
